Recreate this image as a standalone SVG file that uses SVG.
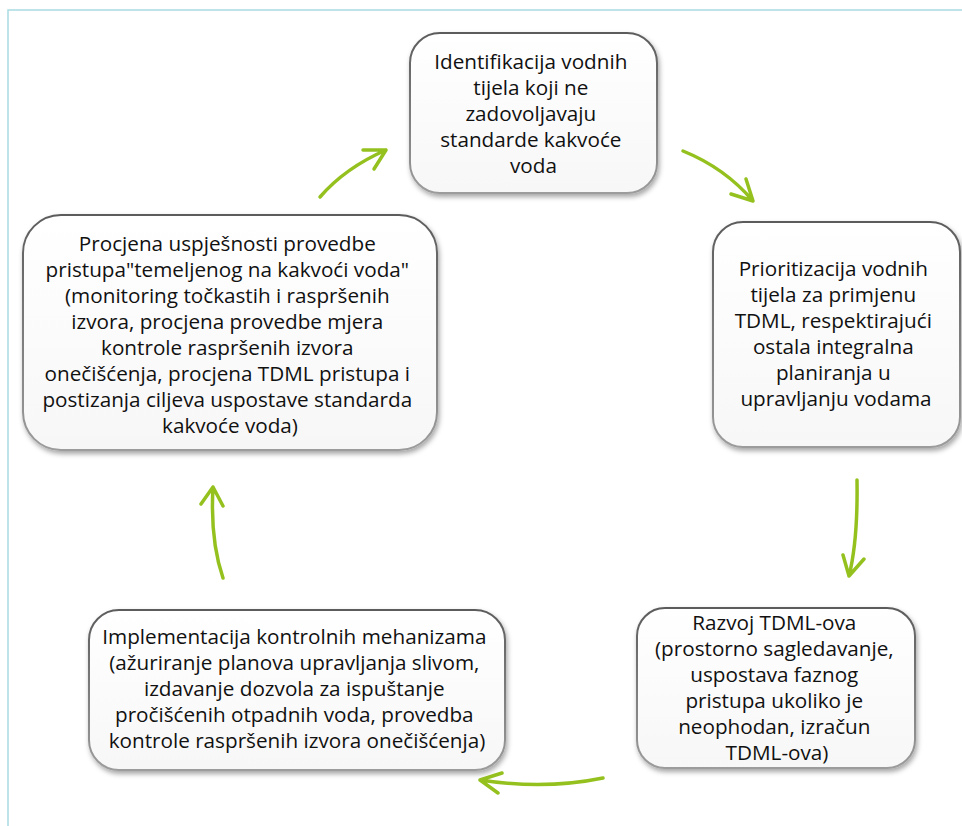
<svg xmlns="http://www.w3.org/2000/svg" width="962" height="826" viewBox="0 0 962 826">
  <style>
    .box { fill: url(#boxFill); stroke: url(#boxStroke); stroke-width: 2; filter: url(#shadow); }
    .lbl { font-family: "Open Sans", "Liberation Sans", sans-serif; font-size: 20.7px; fill: #111; text-anchor: middle; }
    .arrow { fill: none; stroke: #95c11f; stroke-width: 3.5; stroke-linecap: round; stroke-linejoin: round; }
    .frame { stroke: #a9dbe3; stroke-width: 1.5; fill: none; }
  </style>
  <defs>
    <linearGradient id="boxStroke" x1="0" y1="0" x2="0" y2="1">
      <stop offset="0" stop-color="#5c5c5c"/>
      <stop offset="1" stop-color="#9c9c9c"/>
    </linearGradient>
    <linearGradient id="boxFill" x1="0" y1="0" x2="0" y2="1">
      <stop offset="0" stop-color="#ffffff"/>
      <stop offset="1" stop-color="#f7f7f7"/>
    </linearGradient>
    <filter id="shadow" x="-10%" y="-10%" width="120%" height="130%">
      <feDropShadow dx="1.5" dy="3" stdDeviation="2.5" flood-color="#000" flood-opacity="0.35"/>
    </filter>
  </defs>
  <rect width="962" height="826" fill="#ffffff"/>
  <path class="frame" d="M8 826 V10 H962"/>

  <g id="connectors">
    <path class="arrow" d="M320 197 Q345 168 386 150 M363 150 L386 150 L374 169"/>
    <path class="arrow" d="M683 151 Q725 168 753 201 M731 194 L753 201 L746 179"/>
    <path class="arrow" d="M857 480 Q858 540 849 576 M843 555 L849 576 L864 559"/>
    <path class="arrow" d="M603 778 Q545 790 480 780 M502 773 L480 780 L498 793"/>
    <path class="arrow" d="M223 578 Q210 540 213 487 M201 504 L213 487 L223 506"/>
  </g>

  <g id="node-identifikacija">
    <rect class="box" x="410" y="33" width="247" height="160" rx="30"/>
    <text class="lbl">
      <tspan x="533.5" y="69">Identifikacija vodnih</tspan>
      <tspan x="533.5" y="95">tijela koji ne</tspan>
      <tspan x="533.5" y="121">zadovoljavaju</tspan>
      <tspan x="533.5" y="147">standarde kakvoće</tspan>
      <tspan x="533.5" y="173">voda</tspan>
    </text>
  </g>

  <g id="node-prioritizacija">
    <rect class="box" x="713" y="222" width="247" height="225" rx="30"/>
    <text class="lbl">
      <tspan x="836" y="276">Prioritizacija vodnih</tspan>
      <tspan x="836" y="302">tijela za primjenu</tspan>
      <tspan x="836" y="328">TDML, respektirajući</tspan>
      <tspan x="836" y="354">ostala integralna</tspan>
      <tspan x="836" y="380">planiranja u</tspan>
      <tspan x="836" y="406">upravljanju vodama</tspan>
    </text>
  </g>

  <g id="node-razvoj">
    <rect class="box" x="637" y="608" width="278" height="160" rx="28"/>
    <text class="lbl">
      <tspan x="777" y="630">Razvoj TDML-ova</tspan>
      <tspan x="777" y="656">(prostorno sagledavanje,</tspan>
      <tspan x="777" y="682">uspostava faznog</tspan>
      <tspan x="777" y="708">pristupa ukoliko je</tspan>
      <tspan x="777" y="734">neophodan, izračun</tspan>
      <tspan x="777" y="760">TDML-ova)</tspan>
    </text>
  </g>

  <g id="node-implementacija">
    <rect class="box" x="89" y="610" width="416" height="160" rx="30"/>
    <text class="lbl">
      <tspan x="297" y="644">Implementacija kontrolnih mehanizama</tspan>
      <tspan x="297" y="670">(ažuriranje planova upravljanja slivom,</tspan>
      <tspan x="297" y="696">izdavanje dozvola za ispuštanje</tspan>
      <tspan x="297" y="722">pročišćenih otpadnih voda, provedba</tspan>
      <tspan x="297" y="748">kontrole raspršenih izvora onečišćenja)</tspan>
    </text>
  </g>

  <g id="node-procjena">
    <rect class="box" x="23" y="215" width="414" height="235" rx="38"/>
    <text class="lbl">
      <tspan x="230" y="251">Procjena uspješnosti provedbe</tspan>
      <tspan x="230" y="277">pristupa"temeljenog na kakvoći voda"</tspan>
      <tspan x="230" y="303">(monitoring točkastih i raspršenih</tspan>
      <tspan x="230" y="329">izvora, procjena provedbe mjera</tspan>
      <tspan x="230" y="355">kontrole raspršenih izvora</tspan>
      <tspan x="230" y="381">onečišćenja, procjena TDML pristupa i</tspan>
      <tspan x="230" y="407">postizanja ciljeva uspostave standarda</tspan>
      <tspan x="230" y="433">kakvoće voda)</tspan>
    </text>
  </g>
</svg>
